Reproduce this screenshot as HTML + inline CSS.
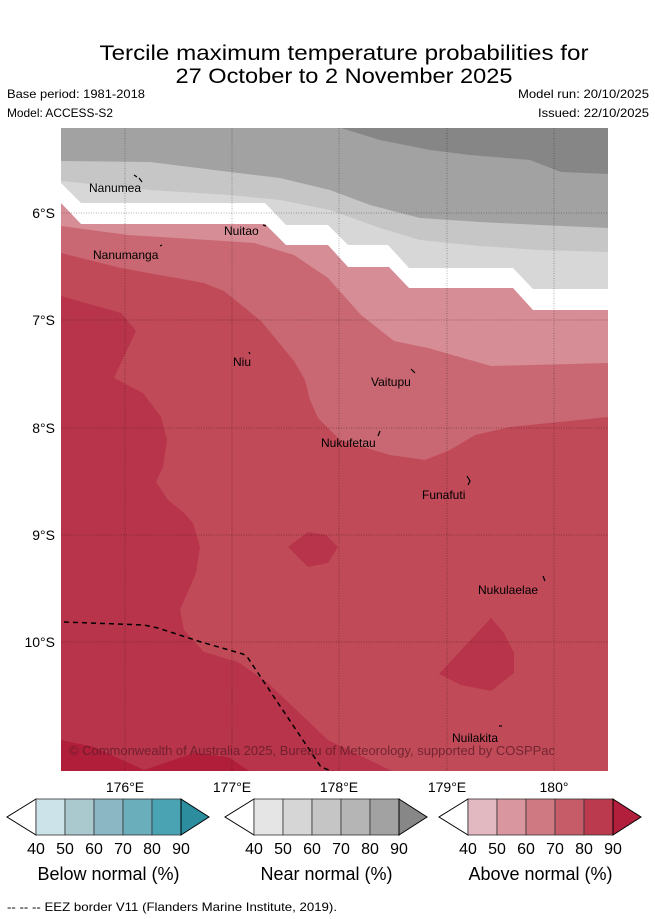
<!DOCTYPE html>
<html><head><meta charset="utf-8"><style>
html,body{margin:0;padding:0;background:#fff;}
svg{display:block;font-family:"Liberation Sans","DejaVu Sans",sans-serif;}
</style></head><body>
<svg id="fig" width="655" height="919" viewBox="0 0 655 919" xmlns="http://www.w3.org/2000/svg">
<g font-size="21" text-anchor="middle" fill="#000">
<text x="344" y="60" textLength="489" lengthAdjust="spacingAndGlyphs">Tercile maximum temperature probabilities for</text>
<text x="344" y="83" textLength="337" lengthAdjust="spacingAndGlyphs">27 October to 2 November 2025</text>
</g>
<g font-size="12" fill="#000">
<text x="7" y="98" textLength="138" lengthAdjust="spacingAndGlyphs">Base period: 1981-2018</text>
<text x="7" y="117" textLength="106" lengthAdjust="spacingAndGlyphs">Model: ACCESS-S2</text>
<text x="649" y="98" text-anchor="end" textLength="131" lengthAdjust="spacingAndGlyphs">Model run: 20/10/2025</text>
<text x="649" y="117" text-anchor="end" textLength="111" lengthAdjust="spacingAndGlyphs">Issued: 22/10/2025</text>
</g>
<defs><clipPath id="mapclip"><rect x="61" y="128" width="547" height="643"/></clipPath></defs>
<g clip-path="url(#mapclip)">
<polygon fill="#a2a2a2" points="61,128 608,128 608,240 61,240"/>
<polygon fill="#868686" points="341,128 380,140 430,150 470,155 530,160 561,172 608,174 608,128"/>
<polygon fill="#c6c6c6" points="61,161 150,162 230,172 280,178 330,190 370,205 420,218 480,222 540,225 608,228 608,400 61,400"/>
<polygon fill="#d7d7d7" points="61,181 150,190 230,195 280,200 330,210 380,228 420,240 480,246 540,250 608,252 608,400 61,400"/>
<polygon fill="#ffffff" points="61,183 81,203 265,203 286,225 328,225 348,245 388,245 409,268 513,268 533,289 608,289 608,400 61,400"/>
<polygon fill="#d68d95" points="61,203 81,224 265,224 286,245 328,245 348,267 389,267 409,288 513,288 533,310 608,310 608,771 61,771"/>
<polygon fill="#c96872" points="61,226 128,235 224,241 254,243 294,255 328,278 361,315 394,341 428,348 491,366 608,363 608,771 61,771"/>
<polygon fill="#c04a58" points="61,253 121,268 204,283 224,291 261,321 294,361 305,380 310,400 318,418 340,440 390,455 425,460 450,450 475,435 510,427 608,417 608,771 61,771"/>
<polygon fill="#b8344a" points="61,296 121,313 136,331 114,378 143,393 161,417 167,440 163,467 156,482 168,500 183,512 193,523 200,547 196,573 180,610 184,630 204,652 238,662 268,683 328,740 394,772 61,772"/>
<polygon fill="#b01e3a" points="61,740 94,747 144,770 194,753 228,757 251,772 61,772"/>
<polygon fill="#b8344a" points="288,547 308,532 326,535 338,547 328,563 308,567"/>
<polygon fill="#b8344a" points="439,674 491,618 504,633 514,653 514,673 491,691 461,685"/>
<g stroke="#000" stroke-opacity="0.3" stroke-width="1" stroke-dasharray="1,1.5">
<line x1="125" y1="128" x2="125" y2="771"/><line x1="232" y1="128" x2="232" y2="771"/><line x1="339" y1="128" x2="339" y2="771"/><line x1="447" y1="128" x2="447" y2="771"/><line x1="554" y1="128" x2="554" y2="771"/>
<line x1="61" y1="213" x2="608" y2="213"/><line x1="61" y1="320" x2="608" y2="320"/><line x1="61" y1="428" x2="608" y2="428"/><line x1="61" y1="535" x2="608" y2="535"/><line x1="61" y1="642" x2="608" y2="642"/>
</g>
<polyline fill="none" stroke="#000" stroke-width="1.5" stroke-dasharray="5,4" points="64,622 144,625 158,628 201,642 243,654 248,658 274,697 321,767 334,772"/>
<g font-size="12" fill="#000">
<text x="89" y="192">Nanumea</text>
<text x="93" y="259">Nanumanga</text>
<text x="224" y="235">Nuitao</text>
<text x="233" y="366">Niu</text>
<text x="371" y="386">Vaitupu</text>
<text x="321" y="447">Nukufetau</text>
<text x="422" y="499">Funafuti</text>
<text x="478" y="594">Nukulaelae</text>
<text x="452" y="742">Nuilakita</text>
</g>
<g stroke="#000" stroke-width="1.2" fill="none">
<path d="M134,175 l3,2 M139,178 l3,4"/><path d="M263,225 l3,1"/><path d="M160,246 l2,-1"/><path d="M249,352 l1,2"/>
<path d="M411,369 l4,4"/><path d="M380,431 l-2,5"/><path d="M467,476 l3,5 l-2,4"/><path d="M543,576 l2,5"/><path d="M499,726 l3,0"/>
</g>
<text x="69" y="755" font-size="12.5" fill="#5a1a24" fill-opacity="0.75" textLength="486" lengthAdjust="spacingAndGlyphs">© Commonwealth of Australia 2025, Bureau of Meteorology, supported by COSPPac</text>
</g>
<g font-size="14" fill="#000" text-anchor="end">
<text x="55" y="218">6°S</text><text x="55" y="325">7°S</text><text x="55" y="433">8°S</text><text x="55" y="540">9°S</text><text x="55" y="647">10°S</text>
</g>
<g font-size="14" fill="#000" text-anchor="middle">
<text x="125" y="792">176°E</text><text x="232" y="792">177°E</text><text x="339" y="792">178°E</text><text x="447" y="792">179°E</text><text x="554" y="792">180°</text>
</g>
<g id="colorbars"></g>
<text x="7" y="911" font-size="12" fill="#000" textLength="330" lengthAdjust="spacingAndGlyphs">--  --  -- EEZ border V11 (Flanders Marine Institute, 2019).</text>
</svg>
<script>
const tickLabels = ["40","50","60","70","80","90"];
const belowColors = ["#cce3e9","#a9c9ce","#8ab7c3","#6aaebc","#4aa3b3","#2b8d9e"];
const nearColors = ["#e5e5e5","#d6d6d6","#c5c5c5","#b5b5b5","#a2a2a2","#878787"];
const aboveColors = ["#e2b9c0","#da969f","#cf7a82","#c65c68","#bb3a4d","#b11f3d"];
const barTitles = ["Below normal (%)","Near normal (%)","Above normal (%)"];
const NS="http://www.w3.org/2000/svg";
const g=document.getElementById('colorbars');
const starts=[36,254,468];
const sets=[belowColors,nearColors,aboveColors];
const segW=29, y0=799, h=36;
function mk(t,a){const e=document.createElementNS(NS,t);for(const k in a)e.setAttribute(k,a[k]);return e;}
sets.forEach((cols,i)=>{
  const x0=starts[i];
  const cb=mk('g',{});
  
  
  const la=mk('polygon',{points:`${x0},${y0} ${x0-29},${y0+h/2} ${x0},${y0+h}`,fill:'#fff',stroke:'#000','stroke-width':1});
  
  
  cb.appendChild(la);
  const n=tickLabels.length-1;
  for(let j=0;j<n;j++){
    const r=mk('rect',{x:x0+j*segW,y:y0,width:segW,height:h,fill:cols[j],stroke:'#333','stroke-width':0.8});
    
    
    cb.appendChild(r);
  }
  const xe=x0+n*segW;
  const ra=mk('polygon',{points:`${xe},${y0} ${xe+28},${y0+h/2} ${xe},${y0+h}`,fill:cols[n],stroke:'#000','stroke-width':1});
  
  
  cb.appendChild(ra);
  tickLabels.forEach((t,j)=>{
    const tx=mk('text',{x:x0+j*segW,y:854,'font-size':16,'text-anchor':'middle',fill:'#000'});
    tx.textContent=t;
    
    
    cb.appendChild(tx);
  });
  const tt=mk('text',{x:x0+n*segW/2,y:880,'font-size':18,'text-anchor':'middle',fill:'#000'});
  tt.textContent=barTitles[i];
  
  
  cb.appendChild(tt);
  g.appendChild(cb);
});
</script>
</body></html>
